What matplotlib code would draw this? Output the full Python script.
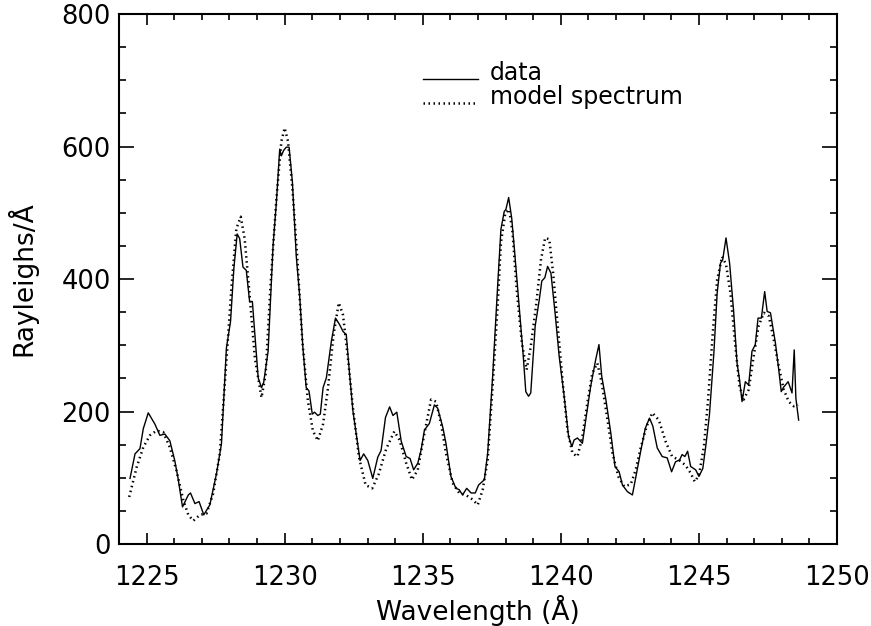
import numpy as np
import matplotlib
matplotlib.use("Agg")
import matplotlib.pyplot as plt
from matplotlib.ticker import MultipleLocator
from matplotlib.legend_handler import HandlerLine2D

# ── data ─────────────────────────────────────────────────────────────────────
data_wl = [
    1224.40, 1224.58, 1224.76, 1224.88, 1225.06, 1225.30, 1225.48, 1225.66, 1225.84, 1226.02,
    1226.14, 1226.30, 1226.51, 1226.59, 1226.75, 1226.90, 1227.07, 1227.29, 1227.53, 1227.71,
    1227.89, 1228.04, 1228.16, 1228.28, 1228.37, 1228.49, 1228.61, 1228.73, 1228.83, 1229.04,
    1229.16, 1229.24, 1229.40, 1229.58, 1229.70, 1229.82, 1229.88, 1229.96, 1230.06, 1230.16,
    1230.28, 1230.42, 1230.54, 1230.66, 1230.78, 1230.88, 1231.00, 1231.08, 1231.20, 1231.29,
    1231.39, 1231.51, 1231.69, 1231.84, 1231.99, 1232.11, 1232.23, 1232.35, 1232.47, 1232.61,
    1232.73, 1232.86, 1233.01, 1233.19, 1233.37, 1233.49, 1233.65, 1233.80, 1233.92, 1234.06,
    1234.22, 1234.40, 1234.54, 1234.67, 1234.82, 1234.94, 1235.06, 1235.24, 1235.42, 1235.54,
    1235.72, 1235.84, 1236.02, 1236.20, 1236.32, 1236.44, 1236.59, 1236.75, 1236.90, 1237.02,
    1237.23, 1237.35, 1237.53, 1237.71, 1237.83, 1237.95, 1238.01, 1238.11, 1238.22, 1238.31,
    1238.49, 1238.64, 1238.73, 1238.83, 1238.91, 1239.07, 1239.22, 1239.31, 1239.42, 1239.52,
    1239.64, 1239.79, 1239.94, 1240.12, 1240.28, 1240.40, 1240.48, 1240.60, 1240.78, 1240.90,
    1241.08, 1241.26, 1241.38, 1241.48, 1241.63, 1241.81, 1241.96, 1242.11, 1242.23, 1242.41,
    1242.59, 1242.71, 1242.89, 1243.06, 1243.21, 1243.33, 1243.49, 1243.67, 1243.85, 1244.01,
    1244.15, 1244.30, 1244.39, 1244.49, 1244.59, 1244.70, 1244.88, 1245.00, 1245.14, 1245.26,
    1245.38, 1245.54, 1245.66, 1245.78, 1245.86, 1245.98, 1246.11, 1246.26, 1246.38, 1246.47,
    1246.56, 1246.68, 1246.80, 1246.92, 1247.04, 1247.14, 1247.26, 1247.38, 1247.47, 1247.59,
    1247.77, 1247.89, 1247.98, 1248.07, 1248.23, 1248.37, 1248.45, 1248.51, 1248.61,
]
data_flux = [
    99, 136, 144, 174, 198, 181, 164, 166, 156, 126,
    99, 56, 74, 77, 61, 64, 44, 59, 106, 151,
    296, 336, 416, 468, 461, 418, 413, 366, 366, 251,
    236, 244, 291, 451, 516, 596, 586, 594, 599, 599,
    546, 434, 376, 296, 236, 231, 196, 199, 194, 196,
    236, 251, 306, 341, 331, 321, 316, 256, 201, 161,
    126, 136, 126, 99, 131, 141, 191, 207, 194, 199,
    155, 132, 129, 112, 122, 142, 172, 182, 210, 205,
    177, 152, 102, 84, 82, 74, 84, 77, 77, 89,
    97, 137, 253, 389, 475, 502, 505, 523, 492, 449,
    359, 283, 230, 223, 228, 329, 369, 397, 402, 419,
    409, 349, 283, 223, 162, 147, 157, 160, 152, 187,
    238, 278, 301, 253, 218, 167, 117, 109, 89, 79,
    74, 100, 140, 175, 190, 178, 145, 132, 130, 109,
    124, 127, 135, 132, 140, 117, 112, 102, 114, 152,
    195, 288, 379, 424, 429, 462, 424, 349, 273, 248,
    215, 245, 240, 291, 301, 341, 341, 381, 351, 349,
    303, 263, 230, 237, 245, 228, 293, 220, 187,
]

model_wl = [
    1224.37, 1224.64, 1224.88, 1225.12, 1225.36, 1225.60, 1225.84, 1226.08, 1226.33, 1226.51,
    1226.69, 1226.93, 1227.17, 1227.41, 1227.65, 1227.89, 1228.07, 1228.25, 1228.41, 1228.55,
    1228.71, 1228.92, 1229.16, 1229.31, 1229.48, 1229.70, 1229.88, 1230.00, 1230.12, 1230.28,
    1230.45, 1230.64, 1230.84, 1231.02, 1231.20, 1231.39, 1231.57, 1231.77, 1231.96, 1232.11,
    1232.29, 1232.47, 1232.69, 1232.93, 1233.17, 1233.41, 1233.67, 1233.97, 1234.16, 1234.40,
    1234.61, 1234.82, 1235.06, 1235.30, 1235.48, 1235.66, 1235.84, 1236.08, 1236.32, 1236.56,
    1236.81, 1236.99, 1237.17, 1237.35, 1237.53, 1237.71, 1237.83, 1237.99, 1238.13, 1238.25,
    1238.40, 1238.59, 1238.76, 1238.91, 1239.10, 1239.28, 1239.43, 1239.58, 1239.72, 1239.91,
    1240.08, 1240.24, 1240.42, 1240.60, 1240.78, 1240.96, 1241.14, 1241.32, 1241.48, 1241.69,
    1241.87, 1242.08, 1242.29, 1242.53, 1242.71, 1242.89, 1243.10, 1243.31, 1243.55, 1243.79,
    1244.03, 1244.27, 1244.51, 1244.70, 1244.85, 1245.00, 1245.18, 1245.33, 1245.50, 1245.66,
    1245.84, 1245.98, 1246.14, 1246.32, 1246.47, 1246.62, 1246.80, 1246.98, 1247.16, 1247.35,
    1247.53, 1247.71, 1247.89, 1248.07, 1248.25, 1248.43, 1248.59,
]
model_flux = [
    71, 116, 146, 164, 171, 169, 146, 111, 66, 44,
    35, 44, 46, 76, 136, 276, 386, 476, 494, 461,
    386, 281, 221, 256, 386, 521, 608, 628, 608, 536,
    436, 306, 216, 171, 156, 181, 236, 316, 364, 346,
    281, 206, 131, 89, 84, 106, 143, 170, 157, 122,
    97, 112, 167, 218, 215, 182, 137, 92, 77, 74,
    67, 59, 82, 127, 238, 359, 455, 500, 505, 470,
    384, 303, 263, 298, 359, 429, 462, 460, 409, 318,
    238, 172, 137, 132, 162, 213, 258, 273, 243, 187,
    137, 102, 87, 90, 112, 145, 177, 198, 187, 155,
    132, 127, 119, 107, 94, 104, 147, 218, 318, 399,
    434, 422, 379, 298, 238, 218, 233, 283, 329, 349,
    344, 308, 268, 233, 215, 208, 210,
]

XLIM = (1224, 1250)
YLIM = (0, 800)


class BaselineLine(HandlerLine2D):
    """legend line sitting on the text baseline (IDL style) instead of centred"""
    def create_artists(self, legend, orig_handle, xdescent, ydescent,
                       width, height, fontsize, trans):
        artists = super().create_artists(legend, orig_handle, xdescent, ydescent,
                                         width, height, fontsize, trans)
        for a in artists:
            y = np.asarray(a.get_ydata(), dtype=float)
            a.set_ydata(np.full_like(y, 0.5))
        return artists


# ── figure ───────────────────────────────────────────────────────────────────
plt.rcParams["font.family"] = "DejaVu Sans"
plt.rcParams["font.size"] = 18.5

fig = plt.figure(figsize=(8.71, 6.26), dpi=100)
ax = fig.add_axes([0.1366, 0.131, 0.8244, 0.8466])

ax.plot(data_wl, data_flux, color="black", lw=1.0, label="data")
ax.plot(model_wl, model_flux, color="black", lw=1.8, linestyle=(0, (0.6, 1.4)),
        label="model spectrum")

ax.set_xlim(*XLIM)
ax.set_ylim(*YLIM)
ax.xaxis.set_major_locator(MultipleLocator(5))
ax.xaxis.set_minor_locator(MultipleLocator(1))
ax.yaxis.set_major_locator(MultipleLocator(200))
ax.yaxis.set_minor_locator(MultipleLocator(50))

ax.tick_params(which="both", direction="in", top=True, right=True, width=1.2, colors="black")
ax.tick_params(axis="x", which="major", length=8, pad=15)
ax.tick_params(axis="x", which="minor", length=4)
ax.tick_params(axis="y", which="major", length=11, pad=6)
ax.tick_params(axis="y", which="minor", length=5)
for sp in ax.spines.values():
    sp.set_linewidth(1.5)

ax.set_xlabel("Wavelength (Å)", fontsize=19, labelpad=3)
ax.set_ylabel("Rayleighs/Å", fontsize=19, labelpad=17)

ax.legend(loc="upper left", bbox_to_anchor=(0.4234, 0.912), frameon=False,
          fontsize=17, handlelength=2.33, handletextpad=0.5, labelspacing=0.0,
          borderpad=0, borderaxespad=0,
          handler_map={plt.Line2D: BaselineLine()})

fig.savefig("out.png", dpi=100)
